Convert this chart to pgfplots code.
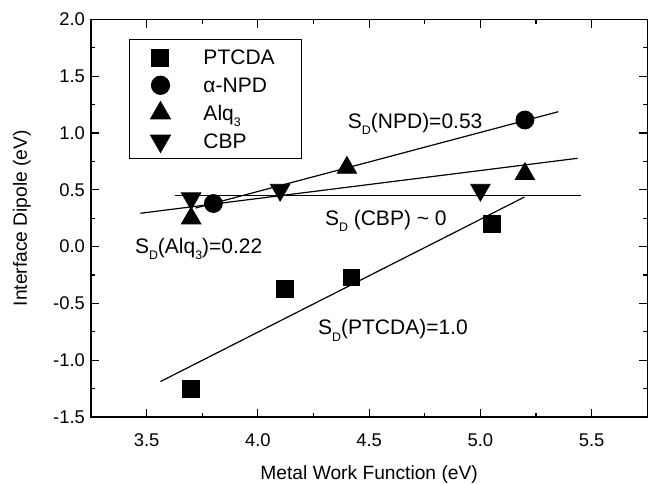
\documentclass[border=0pt]{standalone}
\usepackage{fontspec}
\setmainfont{Liberation Sans}
\usepackage{pgfplots}
\pgfplotsset{compat=1.18}
\newcommand\sub[1]{\raisebox{-3.1pt}{\fontsize{6.2}{7}\selectfont #1}}
\begin{document}
\begin{tikzpicture}
\begin{axis}[
  scale only axis, width=278.15pt, height=198.75pt,
  xmin=3.25, xmax=5.75, ymin=-1.5, ymax=2.0,
  xtick={3.5,4.0,4.5,5.0,5.5},
  ytick={-1.5,-1,-0.5,0,0.5,1,1.5,2},
  minor x tick num=1, minor y tick num=1,
  tick align=inside, major tick length=4pt, minor tick length=2pt,
  axis line style={line width=0.6pt},
  every tick/.style={line width=0.6pt, black},
  xticklabel style={font=\fontsize{9.2}{10}\selectfont, yshift=-5pt},
  yticklabel style={font=\fontsize{9.2}{10}\selectfont, xshift=0.5pt},
  /pgf/number format/.cd, fixed, fixed zerofill, precision=1, assume math mode=true,
  /pgfplots/.cd,
  xlabel={Metal Work Function (eV)},
  ylabel={Interface Dipole (eV)},
  xlabel style={at={(axis description cs:0.5,-0.156)}, anchor=base, font=\fontsize{9.6}{11}\selectfont},
  ylabel style={at={(axis description cs:-0.1151,0.5)}, anchor=base, rotate=0, font=\fontsize{9.6}{11}\selectfont},
  legend style={at={(axis description cs:0,1)}, anchor=north west, xshift=19.15pt, yshift=-9.75pt,
    draw=black, line width=0.6pt, inner xsep=0pt, inner ysep=2pt,
    font=\fontsize{10.5}{12}\selectfont, column sep=6.2pt,
    nodes={inner sep=0pt, text height=10.6pt, text depth=3.3pt}},
  legend cell align=left,
  legend image code/.code={\path (-15pt,0pt) (15pt,0pt); \draw[#1] plot coordinates {(0pt,0pt)};},
  clip=false,
]
\addplot[only marks, mark=square*, mark size=4.2pt, black] coordinates {
  (3.70,-1.25) (4.12,-0.37) (4.42,-0.27) (5.05,0.20)};
\addlegendentry{\makebox[48.8pt][l]{PTCDA}}
\addplot[only marks, mark=*, mark size=4.5pt, black] coordinates {
  (3.80,0.38) (5.20,1.115)};
\addlegendentry{α-NPD}
\addplot[only marks, mark=triangle*, mark size=5.6pt, black] coordinates {
  (3.70,0.25) (4.40,0.695) (5.20,0.64)};
\addlegendentry{Alq\sub{3}}
\addplot[only marks, mark=triangle*, mark size=5.6pt, black, mark options={rotate=180}] coordinates {
  (3.70,0.424) (4.10,0.50) (5.00,0.50)};
\addlegendentry{CBP}
% fit lines
\addplot[black, line width=0.6pt, forget plot] coordinates {(3.562,-1.188) (5.198,0.437)};
\addplot[black, line width=0.6pt, forget plot] coordinates {(3.72,0.34) (5.35,1.188)};
\addplot[black, line width=0.6pt, forget plot] coordinates {(3.472,0.294) (5.437,0.778)};
\addplot[black, line width=0.6pt, forget plot] coordinates {(3.626,0.452) (5.45,0.452)};
\node[anchor=base west, inner sep=0pt, font=\fontsize{10.5}{12}\selectfont] at (axis cs:4.403,1.042) {S\sub{D}(NPD)=0.53};
\node[anchor=base west, inner sep=0pt, font=\fontsize{10.5}{12}\selectfont] at (axis cs:4.30,0.185) {S\sub{D} (CBP) \textasciitilde{} 0};
\node[anchor=base west, inner sep=0pt, font=\fontsize{10.5}{12}\selectfont] at (axis cs:3.446,-0.058) {S\sub{D}(Alq\sub{3})=0.22};
\node[anchor=base west, inner sep=0pt, font=\fontsize{10.5}{12}\selectfont] at (axis cs:4.269,-0.777) {S\sub{D}(PTCDA)=1.0};
\end{axis}
\pgfresetboundingbox
\useasboundingbox ([shift={(-45.5pt,-33pt)}]current axis.south west) rectangle ([shift={(0.35pt,9.75pt)}]current axis.north east);
\end{tikzpicture}
\end{document}
